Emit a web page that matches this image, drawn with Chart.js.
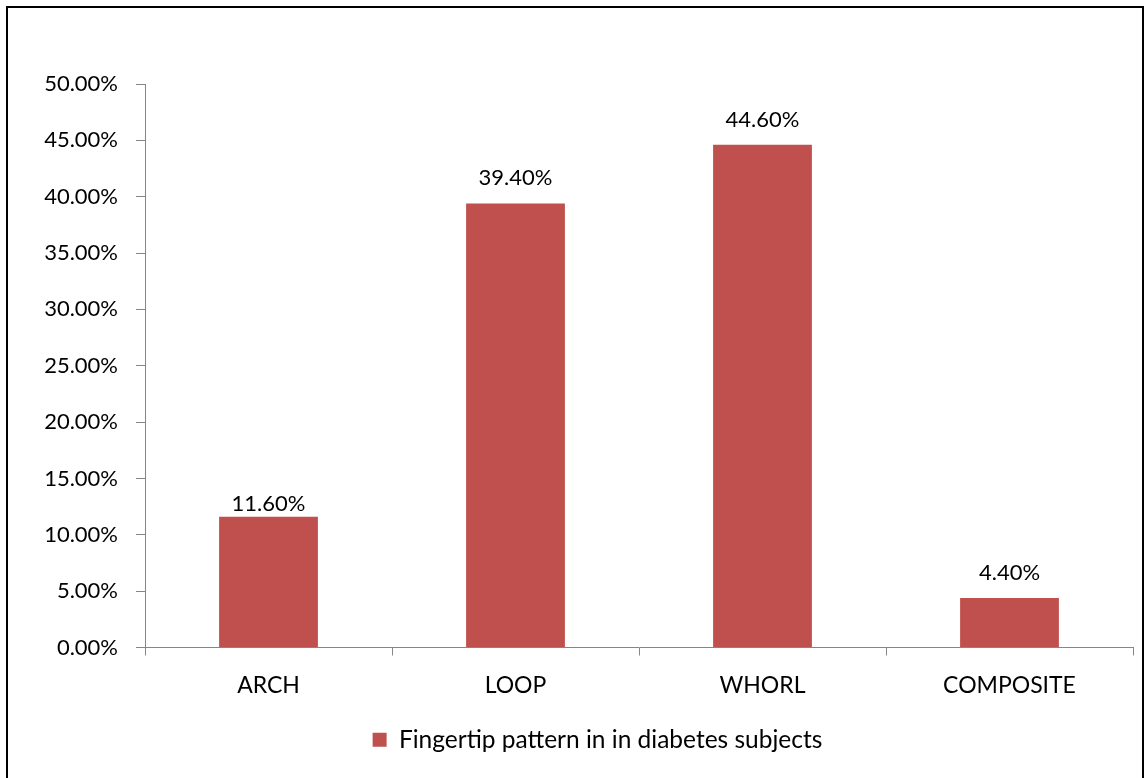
<!DOCTYPE html>
<html>
<head>
<meta charset="utf-8">
<script src="https://cdn.jsdelivr.net/npm/chart.js@4"></script>
<style>
    html, body { margin: 0; padding: 0; background: #fff; }
    #wrap { position: relative; width: 1145px; height: 778px; overflow: hidden; }
    #frame {
        position: absolute; left: 6px; top: 6px; width: 1134px; height: 800px;
        border: 2px solid #000; pointer-events: none;
    }
    canvas { position: absolute; left: 0; top: 0; }
</style>
</head>
<body>
<div id="wrap">
    <canvas id="patternChart" width="1145" height="778"></canvas>
    <div id="frame"></div>
</div>
<script>
// Fingertip pattern distribution
const categories = ['ARCH', 'LOOP', 'WHORL', 'COMPOSITE'];
const percentages = [11.6, 39.4, 44.6, 4.4];
const seriesLabel = 'Fingertip pattern in in diabetes subjects';
const yMin = 0;
const yMax = 50;
const yStep = 5;

// gap (px) between each value label and its bar
const labelGaps = [6, 18, 18, 18];

const FONT = 'Lato, "Open Sans", sans-serif';
const AXIS_GREY = '#868686';
const BAR_RED = '#C0504D';

const pct = v => Number(v).toFixed(2) + '%';

// value labels above each bar
const barValueLabels = {
    id: 'barValueLabels',
    afterDatasetsDraw(chart) {
        const ctx = chart.ctx;
        ctx.save();
        ctx.font = '22px ' + FONT;
        ctx.fillStyle = '#000';
        ctx.textAlign = 'center';
        ctx.textBaseline = 'alphabetic';
        chart.data.datasets.forEach((ds, i) => {
            chart.getDatasetMeta(i).data.forEach((bar, j) => {
                ctx.fillText(pct(ds.data[j]), bar.x, bar.y - labelGaps[j]);
            });
        });
        ctx.restore();
    }
};

// nudge the legend so it sits centred under the plot rather than the canvas
const legendShift = {
    id: 'legendShift',
    afterLayout(chart) {
        if (chart.legend) chart.legend.left += 62;
    }
};

const ctx = document.getElementById('patternChart').getContext('2d');
new Chart(ctx, {
    type: 'bar',
    data: {
        labels: categories,
        datasets: [{
            label: seriesLabel,
            data: percentages,
            backgroundColor: BAR_RED,
            borderWidth: 0,
            barPercentage: 0.4,
            categoryPercentage: 1.0
        }]
    },
    options: {
        responsive: false,
        animation: false,
        layout: {
            padding: { left: 0, right: 12, top: 84, bottom: 16 }
        },
        plugins: {
            tooltip: { enabled: false },
            legend: {
                position: 'bottom',
                labels: {
                    boxWidth: 14,
                    boxHeight: 14,
                    padding: 12,
                    color: '#000',
                    font: { family: FONT, size: 24.5 }
                }
            }
        },
        scales: {
            x: {
                grid: {
                    offset: true,
                    drawOnChartArea: false,
                    color: AXIS_GREY,
                    tickLength: 8
                },
                border: { color: AXIS_GREY, width: 1 },
                ticks: {
                    color: '#000',
                    padding: 16,
                    font: { family: FONT, size: 23 },
                    maxRotation: 0
                },
                afterFit(scale) { scale.height = 68; }
            },
            y: {
                min: yMin,
                max: yMax,
                grid: {
                    drawOnChartArea: false,
                    color: AXIS_GREY,
                    tickLength: 9
                },
                border: { color: AXIS_GREY, width: 1 },
                ticks: {
                    stepSize: yStep,
                    color: '#000',
                    padding: 18,
                    font: { family: FONT, size: 22 },
                    callback: v => pct(v)
                },
                afterFit(scale) { scale.width = 145; }
            }
        }
    },
    plugins: [barValueLabels, legendShift]
});
</script>
</body>
</html>
